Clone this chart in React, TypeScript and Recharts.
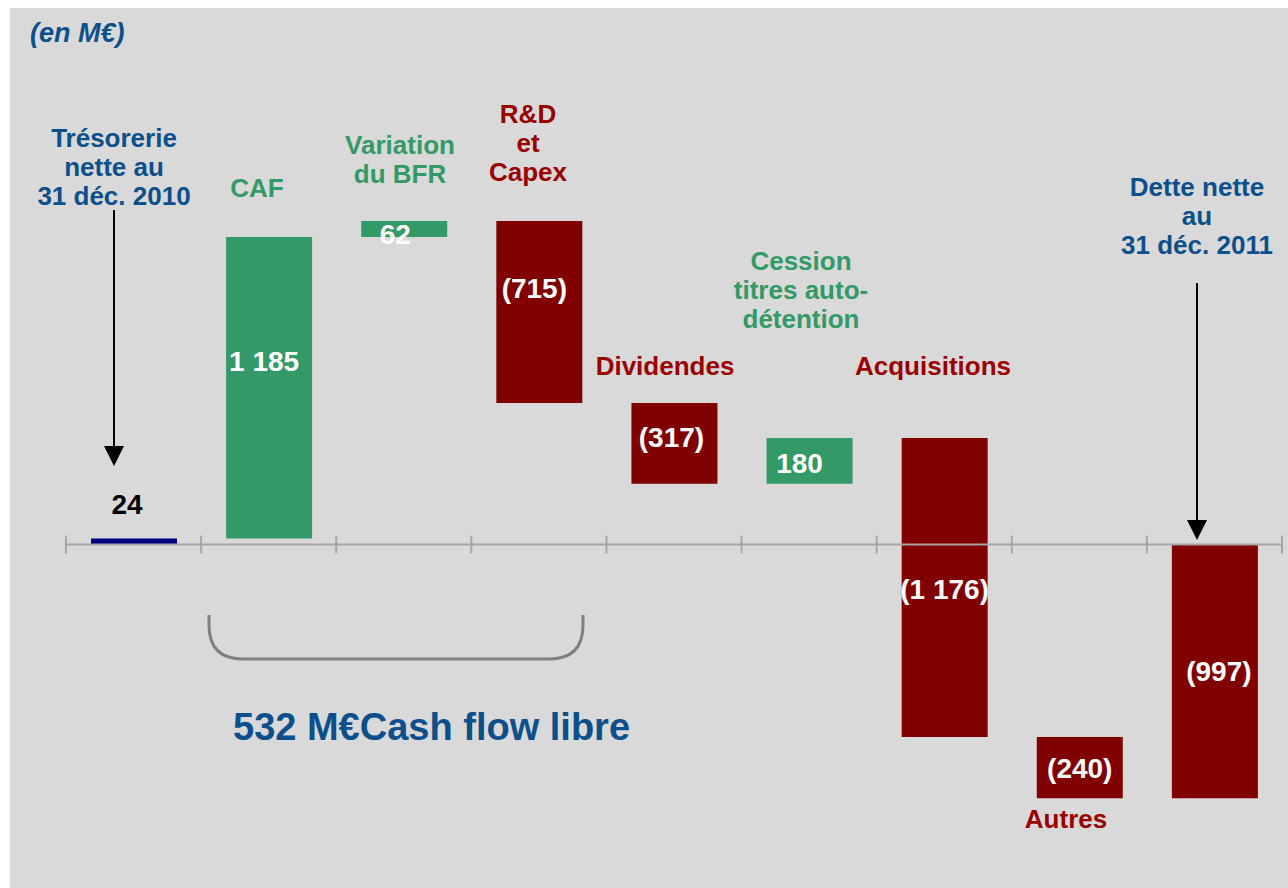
import { BarChart, Bar, XAxis, YAxis, Cell, LabelList, ReferenceLine } from 'recharts';

const categories = [
  'Trésorerie nette au 31 déc. 2010',
  'CAF',
  'Variation du BFR',
  'R&D et Capex',
  'Dividendes',
  'Cession titres auto-détention',
  'Acquisitions',
  'Autres',
  'Dette nette au 31 déc. 2011',
];
const deltas = [24, 1185, 62, -715, -317, 180, -1176, -240, -997];
const isTotal = [true, false, false, false, false, false, false, false, true];

const NAVY = '#000080';
const GREEN = '#339966';
const RED = '#800000';
const RED_TEXT = '#990000';
const BLUE_TEXT = '#0d4f8b';
const AXIS_GREY = '#a6a6a6';
const FONT = '"Liberation Sans", Arial, sans-serif';

const fmt = (v: number) => {
  const s = String(Math.abs(v)).replace(/\B(?=(\d{3})+(?!\d))/g, ' ');
  return v < 0 ? `(${s})` : s;
};

// running sums -> [low, high] for each floating bar
const rows = (() => {
  let running = 0;
  return categories.map((name, i) => {
    const d = deltas[i];
    let low: number;
    let high: number;
    if (isTotal[i]) {
      low = Math.min(0, d);
      high = Math.max(0, d);
      running = d;
    } else {
      low = Math.min(running, running + d);
      high = Math.max(running, running + d);
      running += d;
    }
    const fill = i === 0 ? NAVY : d >= 0 ? GREEN : RED;
    return { name, pos: i + 0.5, range: [low, high], label: fmt(d), fill };
  });
})();

const boundaries = [...categories.map((_, i) => i), categories.length];

// small nudges so the value labels sit where the original put them
const NUDGE: [number, number][] = [
  [-7, 0], [-5, -26], [-9, 6], [-5, -24], [-3, -6], [-10, 3], [0, 2], [0, 1], [4, 0],
];

const renderLabel = (p: any) => {
  const { x, y, width, height, index, value } = p;
  const top = Math.min(y, y + height);
  const h = Math.abs(height);
  const [dx, dy] = NUDGE[index] || [0, 0];
  const cx = x + width / 2 + dx;
  if (index === 0) {
    return (
      <text x={cx} y={top - 34} textAnchor="middle" dominantBaseline="central"
        fontFamily={FONT} fontWeight="bold" fontSize={28} fill="#000">{value}</text>
    );
  }
  return (
    <text x={cx} y={top + h / 2 + dy} textAnchor="middle" dominantBaseline="central"
      fontFamily={FONT} fontWeight="bold" fontSize={28} fill="#fff">{value}</text>
  );
};

const notes = [
  { lines: ['Trésorerie', 'nette au', '31 déc. 2010'], x: 114, y: 138, color: BLUE_TEXT },
  { lines: ['CAF'], x: 257, y: 188, color: GREEN },
  { lines: ['Variation', 'du BFR'], x: 400, y: 145, color: GREEN },
  { lines: ['R&D', 'et', 'Capex'], x: 528, y: 114, color: RED_TEXT },
  { lines: ['Dividendes'], x: 665, y: 366, color: RED_TEXT },
  { lines: ['Cession', 'titres auto-', 'détention'], x: 801, y: 261, color: GREEN },
  { lines: ['Acquisitions'], x: 933, y: 366, color: RED_TEXT },
  { lines: ['Autres'], x: 1066, y: 819, color: RED_TEXT },
  { lines: ['Dette nette', 'au', '31 déc. 2011'], x: 1197, y: 187, color: BLUE_TEXT },
];

const Arrow = ({ x, y1, y2 }: { x: number; y1: number; y2: number }) => (
  <g>
    <line x1={x} y1={y1} x2={x} y2={y2 - 18} stroke="#000" strokeWidth={2} />
    <polygon points={`${x - 10},${y2 - 20} ${x + 10},${y2 - 20} ${x},${y2}`} fill="#000" />
  </g>
);

export default function App() {
  return (
    <div style={{ position: 'absolute', left: 0, top: 0, width: 1288, height: 888 }}>
      <div style={{ position: 'absolute', left: 10, top: 8, width: 1278, height: 880, background: '#d9d9d9' }} />
      <div style={{ position: 'absolute', left: 0, top: 0 }}>
        <BarChart width={1288} height={888} data={rows}
          margin={{ top: 0, right: 6, bottom: 0, left: 66 }}>
          <XAxis xAxisId="cat" dataKey="name" type="category" hide />
          <XAxis xAxisId="num" dataKey="pos" type="number" domain={[0, categories.length]}
            allowDataOverflow hide />
          <YAxis type="number" domain={[-1350, 2140]} allowDataOverflow hide />
          <ReferenceLine xAxisId="num" y={0} stroke={AXIS_GREY} strokeWidth={2} />
          {boundaries.map((b) => (
            <ReferenceLine key={b} xAxisId="num" stroke={AXIS_GREY} strokeWidth={2}
              segment={[{ x: b, y: 35 }, { x: b, y: -35 }]} />
          ))}
          <Bar xAxisId="cat" dataKey="range" barSize={86} isAnimationActive={false}>
            {rows.map((r, i) => (
              <Cell key={i} fill={r.fill} />
            ))}
            <LabelList dataKey="label" content={renderLabel} />
          </Bar>
        </BarChart>
      </div>
      <svg width={1288} height={888} style={{ position: 'absolute', left: 0, top: 0, pointerEvents: 'none' }}>
        <text x={30} y={33} dominantBaseline="central" fontFamily={FONT} fontWeight="bold"
          fontStyle="italic" fontSize={27} fill={BLUE_TEXT}>(en M€)</text>
        {notes.map((n, i) => (
          <text key={i} textAnchor="middle" fontFamily={FONT} fontWeight="bold" fontSize={26} fill={n.color}>
            {n.lines.map((l, j) => (
              <tspan key={j} x={n.x} y={n.y + j * 29} dominantBaseline="central">{l}</tspan>
            ))}
          </text>
        ))}
        <Arrow x={114} y1={210} y2={466} />
        <Arrow x={1197} y1={283} y2={540} />
        <path d="M209 615 L209 625 Q209 659 243 659 L549 659 Q583 659 583 625 L583 615"
          fill="none" stroke="#808080" strokeWidth={3} />
        <text x={233} y={727} dominantBaseline="central" fontFamily={FONT} fontWeight="bold"
          fontSize={38} fill={BLUE_TEXT}>532 M€Cash flow libre</text>
      </svg>
    </div>
  );
}
